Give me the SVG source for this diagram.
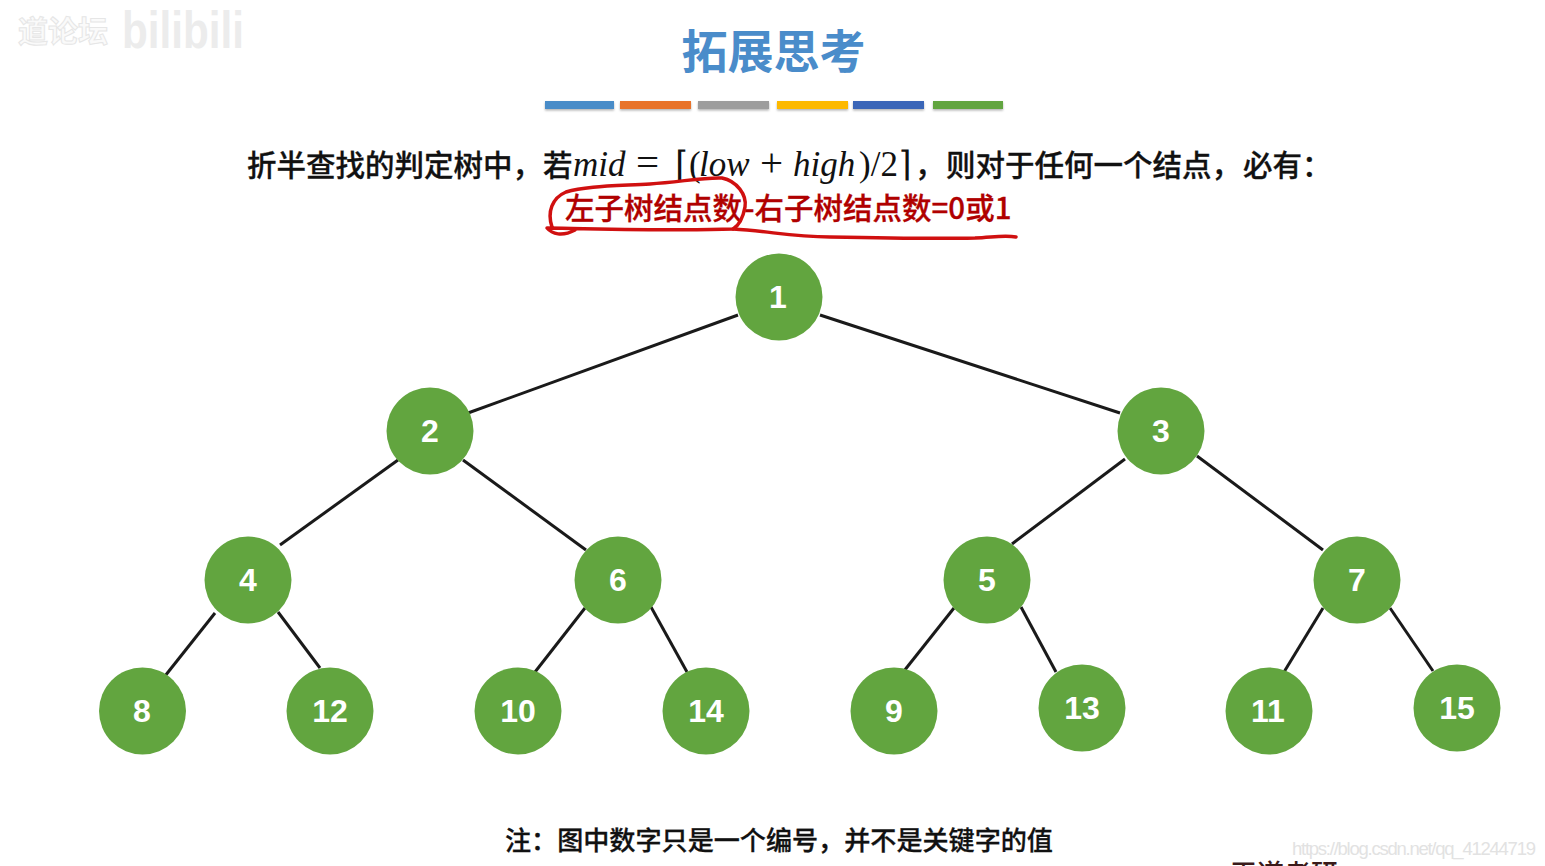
<svg xmlns="http://www.w3.org/2000/svg" width="1545" height="866" viewBox="0 0 1545 866">
<style>
text{font-family:"Liberation Sans","Noto Sans CJK SC",sans-serif}
.cjk{font-family:"Noto Sans CJK SC",sans-serif}
.n circle{fill:#62a53f}
.n text{fill:#fff;font-size:32px;font-weight:700;text-anchor:middle;font-family:"Liberation Sans",sans-serif}
.e line{stroke:#1a1a1a;stroke-width:3}
.b{stroke:none}
.t{font-size:29.5px;font-weight:500;fill:#111;stroke:#111;stroke-width:.3}
.m{font-family:"Liberation Serif",serif;font-size:35px;fill:#111}
.i{font-style:italic}
.o{font-size:41px}
.red{fill:none;stroke:#d01010;stroke-width:3.5;stroke-linecap:round;stroke-linejoin:round}
</style>
<defs><filter id="s" x="-10%" y="-50%" width="120%" height="220%"><feDropShadow dx="0" dy="1.5" stdDeviation="1" flood-color="#000" flood-opacity=".3"/></filter></defs>
<rect width="1545" height="866" fill="#fff"/>
<g id="watermark">
<text class="cjk" x="18" y="42" font-size="30" font-weight="700" fill="#fafafa" stroke="#e6e6e6" stroke-width="1">道论坛</text>
<text x="122" y="48" font-size="52" font-weight="700" fill="#ececec" textLength="122" lengthAdjust="spacingAndGlyphs">bilibili</text>
</g>
<text id="title" class="cjk" x="773.5" y="68" font-size="46" font-weight="700" fill="#4a8cca" text-anchor="middle">拓展思考</text>
<g id="bars" filter="url(#s)">
<rect class="b" x="545" y="101" width="69" height="8" fill="#4a8cc8"/>
<rect class="b" x="620" y="101" width="71" height="8" fill="#e8732a"/>
<rect class="b" x="698" y="101" width="71" height="8" fill="#9d9d9d"/>
<rect class="b" x="777" y="101" width="71" height="8" fill="#fdb900"/>
<rect class="b" x="853" y="101" width="71" height="8" fill="#3a66b8"/>
<rect class="b" x="933" y="101" width="70" height="8" fill="#62a53f"/>
</g>
<g id="heading">
<text class="cjk t" x="247" y="176">折半查找的判定树中，</text>
<text class="cjk t" x="543" y="176">若</text>
<text class="m" y="176"><tspan class="i" x="573">mid</tspan><tspan class="o" x="636">=</tspan><tspan x="675">⌈(</tspan><tspan class="i" x="699">low</tspan><tspan class="o" x="760">+</tspan><tspan class="i" x="793">high</tspan><tspan x="859">)/2⌉</tspan></text>
<text class="cjk t" x="915" y="176">，</text>
<text class="cjk t" x="946" y="176">则对于任何一个结点，</text>
<text class="cjk t" x="1243" y="176">必有：</text>
<text class="cjk t" x="565" y="219" style="fill:#b00000;stroke:#b00000">左子树结点数</text>
<text class="cjk t" x="744" y="219" style="fill:#b00000;stroke:#b00000">-右子树结点数=0或1</text>
</g>
<g id="annotation">
<path class="red" d="M552 227C547 212 552 198 566 192C585 186 615 186 650 184C680 182 705 177 722 178C737 181 747 195 745 207C743 218 738 226 733 229C680 231 610 229 547 228C552 234 562 237 575 230"/>
<path class="red" d="M733 229C770 231 790 237 830 237C880 238 930 239 975 238C995 237 1005 235 1016 237"/>
</g>
<g id="connectors" class="e">
<line x1="738" y1="315" x2="468" y2="413"/><line x1="820" y1="315" x2="1120" y2="413"/>
<line x1="398" y1="460" x2="280" y2="545"/><line x1="463" y1="460" x2="586" y2="550"/>
<line x1="1125" y1="459" x2="1012" y2="544"/><line x1="1197" y1="456" x2="1323" y2="550"/>
<line x1="215" y1="613" x2="165" y2="676"/><line x1="278" y1="612" x2="320" y2="668"/>
<line x1="585" y1="608" x2="535" y2="672"/><line x1="651" y1="607" x2="687" y2="672"/>
<line x1="954" y1="608" x2="904" y2="671"/><line x1="1021" y1="607" x2="1056" y2="672"/>
<line x1="1323" y1="608" x2="1284" y2="672"/><line x1="1390" y1="608" x2="1433" y2="671"/>
</g>
<g id="node1" class="n"><circle cx="779" cy="297" r="43.5"/><text x="778" y="308">1</text></g>
<g id="node2" class="n"><circle cx="430" cy="431" r="43.5"/><text x="430" y="442">2</text></g>
<g id="node3" class="n"><circle cx="1161" cy="431" r="43.5"/><text x="1161" y="442">3</text></g>
<g id="node4" class="n"><circle cx="248" cy="580" r="43.5"/><text x="248" y="591">4</text></g>
<g id="node6" class="n"><circle cx="618" cy="580" r="43.5"/><text x="618" y="591">6</text></g>
<g id="node5" class="n"><circle cx="987" cy="580" r="43.5"/><text x="987" y="591">5</text></g>
<g id="node7" class="n"><circle cx="1357" cy="580" r="43.5"/><text x="1357" y="591">7</text></g>
<g id="node8" class="n"><circle cx="142.500" cy="711" r="43.500"/><text x="142" y="722">8</text></g>
<g id="node12" class="n"><circle cx="330" cy="711" r="43.5"/><text x="330" y="722">12</text></g>
<g id="node10" class="n"><circle cx="518" cy="711" r="43.5"/><text x="518" y="722">10</text></g>
<g id="node14" class="n"><circle cx="706" cy="711" r="43.5"/><text x="706" y="722">14</text></g>
<g id="node9" class="n"><circle cx="894" cy="711" r="43.5"/><text x="894" y="722">9</text></g>
<g id="node13" class="n"><circle cx="1082" cy="708" r="43.5"/><text x="1082" y="719">13</text></g>
<g id="node11" class="n"><circle cx="1269" cy="711" r="43.5"/><text x="1268" y="722">11</text></g>
<g id="node15" class="n"><circle cx="1457" cy="708" r="43.5"/><text x="1457" y="719">15</text></g>
<text id="note" class="cjk" x="505" y="850" font-size="26.1" font-weight="500" fill="#111" stroke="#111" stroke-width=".3">注：图中数字只是一个编号，并不是关键字的值</text>
<text id="wm" x="1292" y="855" font-size="18.5" fill="#e2e2e2" textLength="244">https://blog.csdn.net/qq_41244719</text>
<text id="cut" class="cjk" x="1230" y="884" font-size="27" font-weight="500" fill="#3a1a1a">王道考研</text>
</svg>
